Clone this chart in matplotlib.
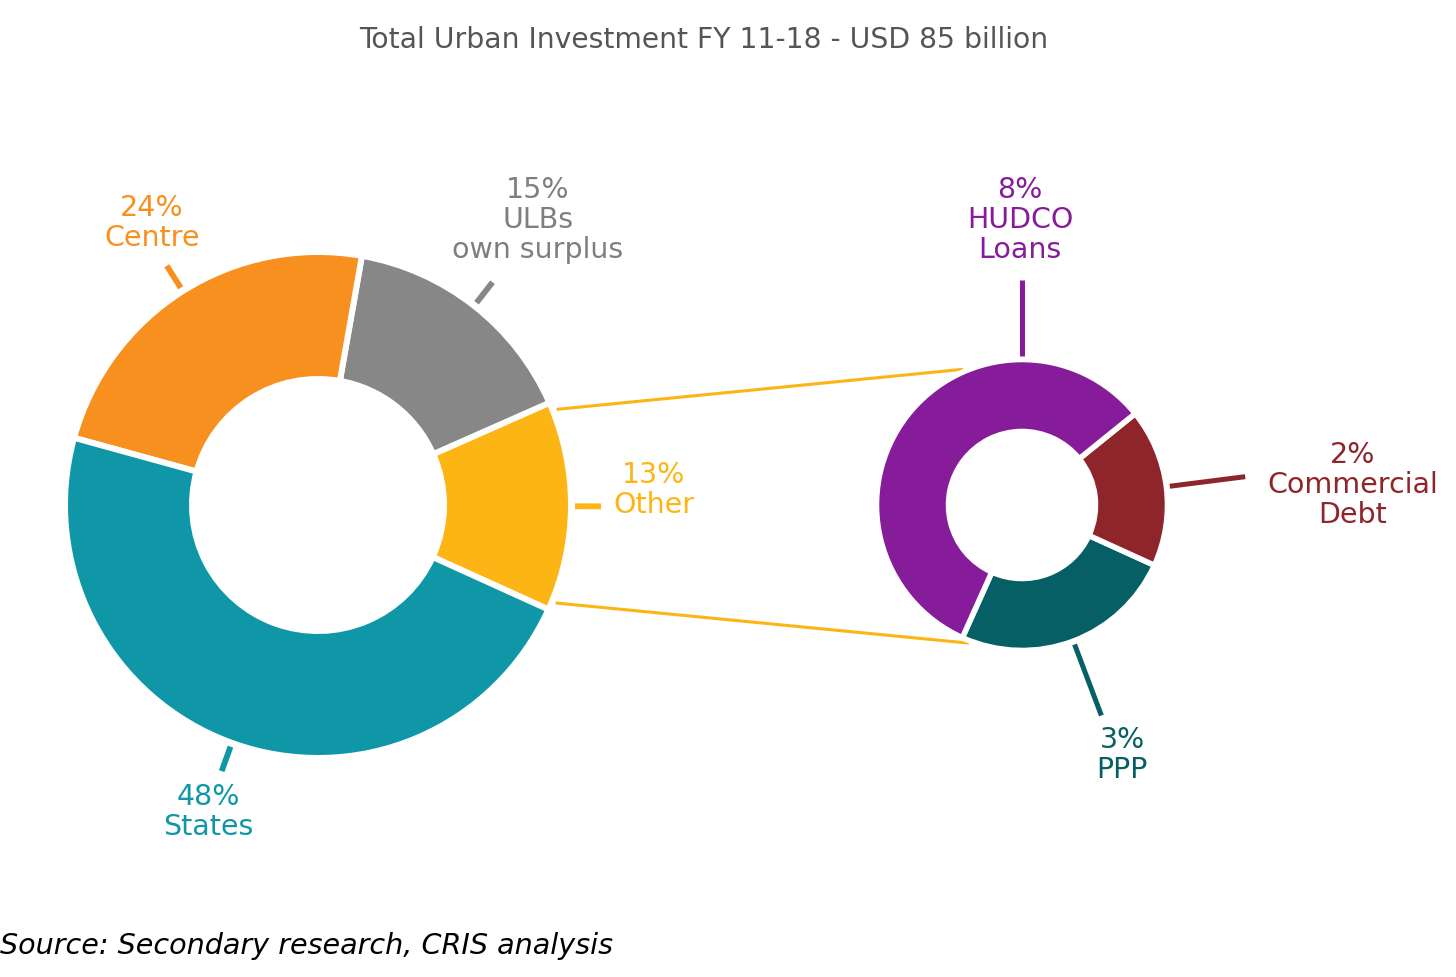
import matplotlib
matplotlib.use("Agg")
import matplotlib.pyplot as plt
import numpy as np

W, H = 1456, 977

title = "Total Urban Investment FY 11-18 - USD 85 billion"
source = "Source: Secondary research, CRIS analysis"

# Left donut (counter-clockwise, starting with "Other")
left_names = ["Other", "ULBs\nown surplus", "Centre", "States"]
left_pct_labels = ["13%", "15%", "24%", "48%"]
left_values = [13.4, 15.6, 23.5, 47.5]          # slice sizes as drawn
left_colors = ["#FDB515", "#878787", "#F7901E", "#0F97A8"]
left_text_colors = ["#FDB515", "#7F7F7F", "#F7901E", "#0F97A8"]

# Right donut: breakdown of "Other" (counter-clockwise, starting with PPP)
right_names = ["PPP", "Commercial\nDebt", "HUDCO\nLoans"]
right_pct_labels = ["3%", "2%", "8%"]
right_values = [3.24, 2.29, 7.47]               # slice sizes as drawn
right_colors = ["#075F66", "#8E252B", "#861C99"]

# ---------------- layout (pixel space, y measured from top) ----------------
def Y(p):
    return H - p

FONT = "DejaVu Sans"
LABEL_FS = 20.5
fig = plt.figure(figsize=(W / 100, H / 100), dpi=100)
ax = fig.add_axes([0, 0, 1, 1])

L_center = (318, Y(505)); L_radius = 253; L_width = 127
R_center = (1022, Y(505)); R_radius = 145.5; R_width = 72

wl, _ = ax.pie(left_values, colors=left_colors, startangle=-24.4, counterclock=True,
               center=L_center, radius=L_radius, frame=True,
               wedgeprops=dict(width=L_width, edgecolor="white", linewidth=4.3))
wr, _ = ax.pie(right_values, colors=right_colors, startangle=-114.2, counterclock=True,
               center=R_center, radius=R_radius, frame=True,
               wedgeprops=dict(width=R_width, edgecolor="white", linewidth=4.0))

def polar(c, r, ang):
    a = np.deg2rad(ang)
    return c[0] + r * np.cos(a), c[1] + r * np.sin(a)

# connector lines from "Other" slice to right donut
other = wl[0]
for a_left, a_right in [(other.theta2 - 2.0, 113.5), (other.theta1 + 2.0, -111.0)]:
    x0, y0 = polar(L_center, 257, a_left)
    x1, y1 = polar(R_center, 148, a_right)
    ax.plot([x0, x1], [y0, y1], color=left_colors[0], lw=2.2, zorder=0,
            solid_capstyle="butt")

# leader ticks + labels, left donut
left_label_pos = [(654, 490), (538, 220), (152, 223), (208, 812)]
for w, col, tcol, pct, name, pos in zip(wl, left_colors, left_text_colors,
                                         left_pct_labels, left_names, left_label_pos):
    mid = (w.theta1 + w.theta2) / 2
    x0, y0 = polar(L_center, 257, mid)
    x1, y1 = polar(L_center, 283, mid)
    ax.plot([x0, x1], [y0, y1], color=col, lw=4.2, solid_capstyle="butt")
    ax.text(pos[0], Y(pos[1]), f"{pct}\n{name}", color=tcol, ha="center", va="center",
            fontsize=LABEL_FS, family=FONT, linespacing=1.08)

# leader ticks + labels, right donut
right_label_pos = [(1122, 755), (1353, 485), (1020, 220)]
right_tick_angle = [None, None, 90.0]
for w, col, pct, name, pos, ta in zip(wr, right_colors, right_pct_labels, right_names,
                                      right_label_pos, right_tick_angle):
    mid = (w.theta1 + w.theta2) / 2 if ta is None else ta
    x0, y0 = polar(R_center, 149, mid)
    x1, y1 = polar(R_center, 225, mid)
    ax.plot([x0, x1], [y0, y1], color=col, lw=3.6, solid_capstyle="butt")
    ax.text(pos[0], Y(pos[1]), f"{pct}\n{name}", color=col, ha="center", va="center",
            fontsize=LABEL_FS, family=FONT, linespacing=1.08)

ax.text(704, Y(40), title, ha="center", va="center", fontsize=20.3, color="#555555",
        family=FONT)
ax.text(0, Y(946), source, ha="left", va="center", fontsize=20.6, color="black",
        style="italic", family=FONT)

ax.set_xlim(0, W)
ax.set_ylim(0, H)
ax.set_axis_off()
fig.savefig("out.png", dpi=100, facecolor="white")
